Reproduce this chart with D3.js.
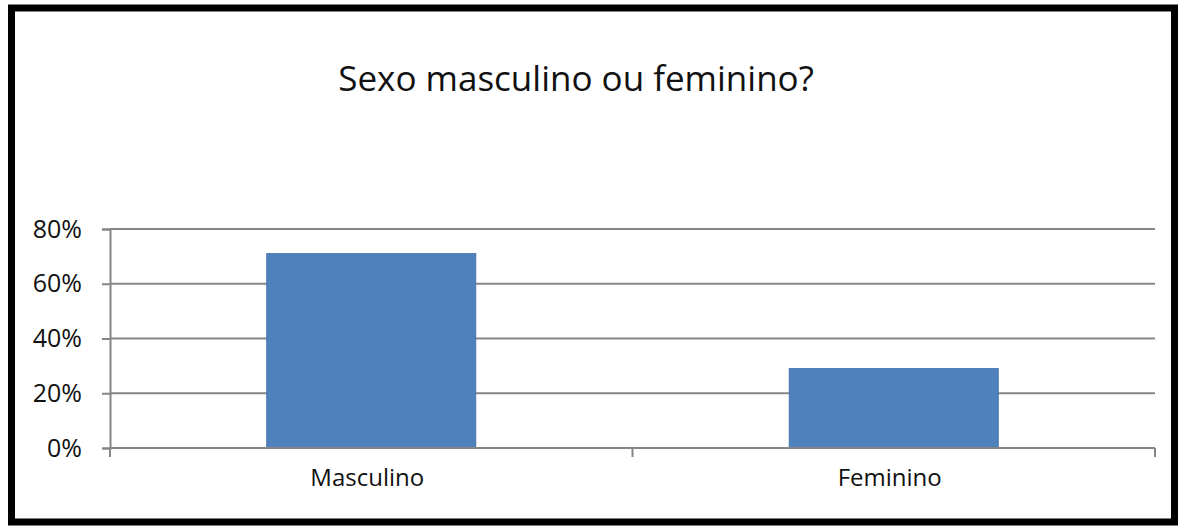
<!DOCTYPE html>
<html>
<head>
<meta charset="utf-8">
<script src="https://cdn.jsdelivr.net/npm/d3@7"></script>
<style>
  html, body { margin: 0; padding: 0; background: #fff; }
  svg { display: block; font-family: "Open Sans", "Noto Sans", sans-serif; }
</style>
</head>
<body>
<div id="chart"></div>
<script>
const categories = ["Masculino", "Feminino"];
const values = [71, 29];
const yTicks = [0, 20, 40, 60, 80];
const title = "Sexo masculino ou feminino?";

const width = 1178;
const height = 526;
const margin = { top: 229, right: 23, bottom: 78, left: 110 };

const svg = d3.select("#chart")
  .append("svg")
  .attr("width", width)
  .attr("height", height);

// frame
svg.append("rect")
  .attr("x", 11.5)
  .attr("y", 8)
  .attr("width", 1163)
  .attr("height", 514)
  .attr("fill", "#fff")
  .attr("stroke", "#000")
  .attr("stroke-width", 7);

svg.append("text")
  .attr("x", 576)
  .attr("y", 91)
  .attr("text-anchor", "middle")
  .attr("font-size", 35)
  .attr("fill", "#111")
  .text(title);

const x = d3.scaleBand()
  .domain(categories)
  .range([margin.left, width - margin.right])
  .paddingInner(0.6)
  .paddingOuter(0.3);

const y = d3.scaleLinear()
  .domain([0, 80])
  .range([height - margin.bottom, margin.top]);

// gridlines
svg.append("g")
  .selectAll("line")
  .data(yTicks.slice(1))
  .enter()
  .append("line")
  .attr("x1", margin.left)
  .attr("x2", width - margin.right)
  .attr("y1", d => y(d))
  .attr("y2", d => y(d))
  .attr("stroke", "#868686")
  .attr("stroke-width", 2);

// y axis
const yAxis = d3.axisLeft(y)
  .tickValues(yTicks)
  .tickSize(8)
  .tickPadding(20)
  .tickFormat(d => d + "%");

const gy = svg.append("g")
  .attr("transform", `translate(${margin.left},0)`)
  .call(yAxis);
gy.select(".domain").attr("stroke", "#868686").attr("stroke-width", 2);
gy.selectAll(".tick line").attr("stroke", "#868686").attr("stroke-width", 2);
gy.selectAll(".tick text")
  .attr("font-size", 25)
  .attr("font-family", "\"Open Sans\", sans-serif")
  .attr("fill", "#111");

// bars
svg.append("g")
  .selectAll("rect")
  .data(values)
  .enter()
  .append("rect")
  .attr("x", (d, i) => x(categories[i]))
  .attr("y", d => y(d))
  .attr("width", x.bandwidth())
  .attr("height", d => y(0) - y(d))
  .attr("fill", "#4F81BD")
  .attr("stroke", "#4677B0")
  .attr("stroke-width", 1);

// x axis
const bounds = [margin.left, (margin.left + width - margin.right) / 2, width - margin.right];
const gx = svg.append("g");
gx.append("line")
  .attr("x1", margin.left)
  .attr("x2", width - margin.right)
  .attr("y1", y(0))
  .attr("y2", y(0))
  .attr("stroke", "#868686")
  .attr("stroke-width", 2);
gx.selectAll(".xtick")
  .data(bounds)
  .enter()
  .append("line")
  .attr("x1", d => d)
  .attr("x2", d => d)
  .attr("y1", y(0))
  .attr("y2", y(0) + 9)
  .attr("stroke", "#868686")
  .attr("stroke-width", 2);
gx.selectAll("text")
  .data(categories)
  .enter()
  .append("text")
  .attr("x", d => x(d) + x.bandwidth() / 2 - 4)
  .attr("y", y(0) + 38)
  .attr("text-anchor", "middle")
  .attr("font-size", 24)
  .attr("fill", "#111")
  .text(d => d);
</script>
</body>
</html>
